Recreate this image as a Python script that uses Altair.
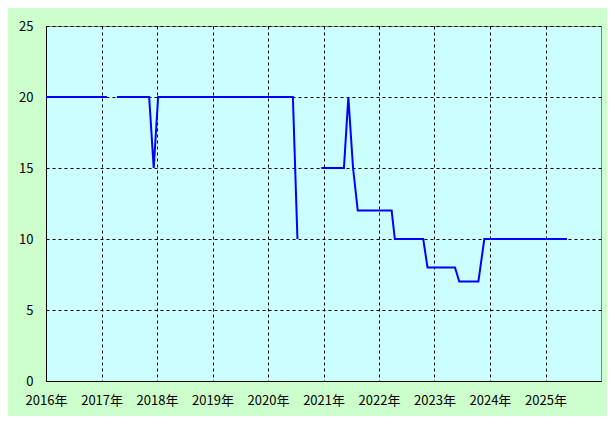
import altair as alt
import pandas as pd

dates = [
    "2016-01-01", "2017-02-06",
    "2017-04-12", "2017-11-10", "2017-12-10", "2018-01-08", "2020-06-13", "2020-07-13",
    "2020-12-17", "2021-05-15", "2021-06-13", "2021-07-14", "2021-08-14", "2022-03-25",
    "2022-04-15", "2022-10-19", "2022-11-16", "2023-05-16", "2023-06-13", "2023-10-17",
    "2023-11-25", "2025-05-22",
]
values = [
    20, 20,
    20, 20, 15, 20, 20, 10,
    15, 15, 20, 15, 12, 12,
    10, 10, 8, 8, 7, 7,
    10, 10,
]
segments = [
    1, 1,
    2, 2, 2, 2, 2, 2,
    3, 3, 3, 3, 3, 3,
    3, 3, 3, 3, 3, 3,
    3, 3,
]
years = list(range(2016, 2026))
y_ticks = [0, 5, 10, 15, 20, 25]

df = pd.DataFrame({"date": dates, "value": values, "seg": segments})

FONT = "Noto Sans CJK JP"

chart = (
    alt.Chart(df)
    .mark_line(color="#0000ff", strokeWidth=2)
    .encode(
        x=alt.X(
            "date:T",
            scale=alt.Scale(
                type="utc",
                domain=[
                    alt.DateTime(year=2016, month=1, date=1, utc=True),
                    alt.DateTime(year=2026, month=1, date=1, utc=True),
                ],
            ),
            axis=alt.Axis(
                title=None,
                labelExpr="utcFormat(datum.value, '%Y') + '年'",
                values=[alt.DateTime(year=y, month=1, date=1, utc=True) for y in years],
                labelPadding=13,
                labelFlush=False,
                labelOverlap=False,
            ),
        ),
        y=alt.Y(
            "value:Q",
            scale=alt.Scale(domain=[0, 25], nice=False),
            axis=alt.Axis(title=None, values=y_ticks, labelPadding=13),
        ),
        detail="seg:N",
    )
    .properties(
        width=555,
        height=355,
        autosize=alt.AutoSizeParams(type="none"),
        padding={"left": 38, "top": 18, "right": 6, "bottom": 35},
        background="#ccffcc",
    )
    .configure_view(fill="#ccffff", stroke="#808080", strokeWidth=1)
    .configure_axis(
        grid=True,
        gridColor="#000000",
        gridDash=[3, 3],
        gridOpacity=1,
        gridWidth=1,
        ticks=False,
        domainColor="#000000",
        domainWidth=1,
        labelFont=FONT,
        labelFontSize=13,
        labelColor="#000000",
    )
)

chart.save("out.html", embed_options={"renderer": "svg", "actions": False})
